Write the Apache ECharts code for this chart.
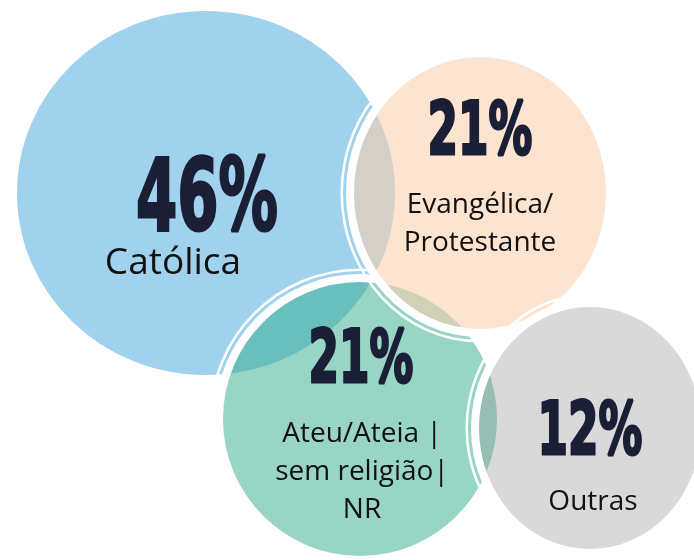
<!DOCTYPE html>
<html>
<head>
<meta charset="utf-8">
<script src="https://cdn.jsdelivr.net/npm/echarts@6/dist/echarts.min.js"></script>
<style>
    html, body { margin: 0; padding: 0; background: #fff; }
    #chart { width: 694px; height: 560px; }
</style>
</head>
<body>
<div id="chart"></div>
<script>
// Données
const categories = ['Católica', 'Evangélica/\nProtestante', 'Ateu/Ateia |\nsem religião|\nNR', 'Outras'];
const shares = [46, 21, 21, 12];
// Centres et rayons des bulles (unités des axes)
const bubbleX = [206, 480, 360, 590];
const bubbleY = [193, 193, 419, 428];
const bubbleRx = [190, 127, 138, 112];
const bubbleRy = [183, 137, 138, 122];

// Styles
const fillColors = ['#a1d2ed', 'rgba(251,207,171,0.56)', 'rgba(49,171,139,0.5)', 'rgba(150,150,150,0.36)'];
const drawOrder = [0, 2, 1, 3];
const percentOffset = [[1, 11], [0, -58], [1, -56], [0, 7]];
const percentSize = [99, 73, 73, 73];
const labelOffset = [[-33, 70], [0, 31], [2, 53], [3, 74]];
const labelSize = [37, 28, 28, 28];

const seriesData = categories.map((name, i) => [bubbleX[i], bubbleY[i], bubbleRx[i], bubbleRy[i], shares[i]]);

function renderBubble(params, api)
{
    const i = params.dataIndex;
    const c = api.coord([api.value(0), api.value(1)]);
    const s = api.size([api.value(2), api.value(3)]);
    const rx = Math.abs(s[0]);
    const ry = Math.abs(s[1]);
    const z = (drawOrder[i] + 1) * 10;

    return {
        type: 'group',
        children: [
            { type: 'ellipse', z2: z, shape: { cx: c[0], cy: c[1], rx, ry }, style: { fill: fillColors[i] } },
            // Double contour blanc
            { type: 'ellipse', z2: z + 1, shape: { cx: c[0], cy: c[1], rx: rx + 3, ry: ry + 3 }, style: { fill: 'none', stroke: '#fff', lineWidth: 8 } },
            { type: 'ellipse', z2: z + 1, shape: { cx: c[0], cy: c[1], rx: rx + 11.25, ry: ry + 11.25 }, style: { fill: 'none', stroke: '#fff', lineWidth: 2.5 } },
            {
                type: 'text', z2: 100,
                x: c[0] + percentOffset[i][0], y: c[1] + percentOffset[i][1], scaleX: 0.6,
                style: {
                    text: api.value(4) + '%',
                    font: 'bold ' + percentSize[i] + 'px "DejaVu Sans"',
                    fill: '#1b1f36', stroke: '#1b1f36', lineWidth: 3,
                    align: 'center', verticalAlign: 'middle'
                }
            },
            {
                type: 'text', z2: 100,
                x: c[0] + labelOffset[i][0], y: c[1] + labelOffset[i][1],
                style: {
                    text: categories[i],
                    font: labelSize[i] + 'px "Open Sans"',
                    lineHeight: 38,
                    fill: '#111',
                    align: 'center', verticalAlign: 'middle'
                }
            }
        ]
    };
}

const chart = echarts.init(document.getElementById('chart'));
chart.setOption({
    animation: false,
    grid: { left: 0, right: 0, top: 0, bottom: 0 },
    xAxis: { type: 'value', min: 0, max: 694, show: false },
    yAxis: { type: 'value', min: 0, max: 560, inverse: true, show: false },
    series: [{
        type: 'custom',
        clip: false,
        renderItem: renderBubble,
        encode: { x: 0, y: 1 },
        data: seriesData
    }]
});
</script>
</body>
</html>
